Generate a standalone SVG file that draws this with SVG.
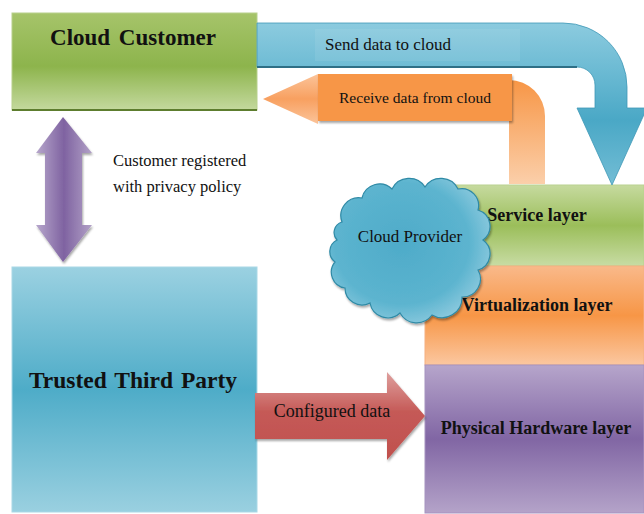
<svg xmlns="http://www.w3.org/2000/svg" width="644" height="514" viewBox="0 0 644 514">
  <defs>
    <linearGradient id="gGreen" x1="0" y1="0" x2="0" y2="1">
      <stop offset="0" stop-color="#a6c46a"/>
      <stop offset="0.55" stop-color="#8db44c"/>
      <stop offset="1" stop-color="#c4d99e"/>
    </linearGradient>
    <linearGradient id="gGreenLayer" x1="0" y1="0" x2="0" y2="1">
      <stop offset="0" stop-color="#c6da9f"/>
      <stop offset="0.5" stop-color="#9bbe5a"/>
      <stop offset="1" stop-color="#c8dca4"/>
    </linearGradient>
    <linearGradient id="gBlueBox" x1="0" y1="0" x2="0" y2="1">
      <stop offset="0" stop-color="#9bd1e1"/>
      <stop offset="0.5" stop-color="#4eacc8"/>
      <stop offset="1" stop-color="#9ad0e0"/>
    </linearGradient>
    <linearGradient id="gOrangeLayer" x1="0" y1="0" x2="0" y2="1">
      <stop offset="0" stop-color="#f9b98a"/>
      <stop offset="0.5" stop-color="#f79646"/>
      <stop offset="1" stop-color="#fbc7a0"/>
    </linearGradient>
    <linearGradient id="gPurpleLayer" x1="0" y1="0" x2="0" y2="1">
      <stop offset="0" stop-color="#b6a5cb"/>
      <stop offset="0.5" stop-color="#8166a4"/>
      <stop offset="1" stop-color="#b4a3c9"/>
    </linearGradient>
    <linearGradient id="gSend" gradientUnits="userSpaceOnUse" x1="0" y1="23" x2="0" y2="185">
      <stop offset="0" stop-color="#8ccbdf"/>
      <stop offset="0.3" stop-color="#6bbad3"/>
      <stop offset="0.6" stop-color="#4aa8c6"/>
      <stop offset="1" stop-color="#73bdd5"/>
    </linearGradient>
    <linearGradient id="gRecvBar" x1="0" y1="0" x2="0" y2="1">
      <stop offset="0" stop-color="#f79646"/>
      <stop offset="1" stop-color="#fbcfaa"/>
    </linearGradient>
    <linearGradient id="gRecvHead" x1="0" y1="0" x2="0" y2="1">
      <stop offset="0" stop-color="#fbc49a"/>
      <stop offset="0.5" stop-color="#f8a060"/>
      <stop offset="1" stop-color="#fbc49a"/>
    </linearGradient>
    <linearGradient id="gPurple" x1="0" y1="0" x2="1" y2="0">
      <stop offset="0" stop-color="#b7a7cc"/>
      <stop offset="0.5" stop-color="#7f63a1"/>
      <stop offset="1" stop-color="#b2a1c7"/>
    </linearGradient>
    <linearGradient id="gRed" x1="0" y1="0" x2="0" y2="1">
      <stop offset="0" stop-color="#dfa09e"/>
      <stop offset="0.45" stop-color="#c55a57"/>
      <stop offset="1" stop-color="#c0504d"/>
    </linearGradient>
    <radialGradient id="gCloud" cx="0.45" cy="0.45" r="0.6">
      <stop offset="0" stop-color="#4eabc9"/>
      <stop offset="0.7" stop-color="#5cb4cf"/>
      <stop offset="1" stop-color="#8fcbdf"/>
    </radialGradient>
    <filter id="shadow" x="-10%" y="-10%" width="120%" height="130%">
      <feDropShadow dx="1" dy="2" stdDeviation="1" flood-color="#000" flood-opacity="0.35"/>
    </filter>
  </defs>
  <style>
    .lbl { font-family: "Liberation Serif", "Times New Roman", serif; fill: #111; }
    .title { font-weight: bold; }
    .box { stroke-width: 1; }
  </style>

  <!-- layered cloud provider stack -->
  <g id="service-layer">
    <rect x="430" y="185" width="214" height="81" fill="url(#gGreenLayer)" stroke="#b9d18f" class="box"/>
    <text class="lbl title" x="537" y="221" font-size="18" text-anchor="middle">Service layer</text>
  </g>
  <g id="virtualization-layer">
    <rect x="425" y="266" width="219" height="99" fill="url(#gOrangeLayer)" stroke="#f5b080" class="box"/>
    <text class="lbl title" x="537" y="311" font-size="18" text-anchor="middle">Virtualization layer</text>
  </g>
  <g id="physical-layer">
    <rect x="425" y="365" width="219" height="148" fill="url(#gPurpleLayer)" stroke="#a693c0" class="box"/>
    <text class="lbl title" x="536" y="434" font-size="18" text-anchor="middle">Physical Hardware layer</text>
  </g>

  <g id="cloud-provider">
    <path filter="url(#shadow)" fill="url(#gCloud)" stroke="#2f8aa6" stroke-width="1.2"
      d="M342,222 A18,18 0 0 1 362,198 A18,18 0 0 1 392,189 A19,19 0 0 1 425,187 A19,19 0 0 1 458,189 A17,17 0 0 1 478,210 A17,17 0 0 1 483,240 A17,17 0 0 1 478,270 A18,18 0 0 1 462,297 A20,20 0 0 1 432,315 A19,19 0 0 1 400,313 A18,18 0 0 1 370,303 A17,17 0 0 1 345,288 A16,16 0 0 1 335,262 A13,13 0 0 1 337,240 A11,11 0 0 1 342,222 Z"/>
    <text class="lbl" x="410" y="242" font-size="17" text-anchor="middle">Cloud Provider</text>
  </g>

  <g id="cloud-customer">
    <rect x="12" y="13" width="245" height="97" fill="url(#gGreen)" stroke="#b7d08c" class="box"/>
    <line x1="12" y1="110" x2="257" y2="110" stroke="#5d7d2e" stroke-width="2"/>
    <text class="lbl title" x="133" y="45" font-size="23" text-anchor="middle" word-spacing="3">Cloud Customer</text>
  </g>

  <g id="trusted-third-party">
    <rect x="12" y="267" width="245" height="245" fill="url(#gBlueBox)" stroke="#a9d8e6" class="box"/>
    <text class="lbl title" x="133" y="388" font-size="23.5" text-anchor="middle" word-spacing="2">Trusted Third Party</text>
  </g>

  <!-- connectors -->
  <g id="connectors">
    <!-- send data: bent arrow from customer down to service layer -->
    <g id="send-data">
      <path fill="url(#gSend)" stroke="#3f98b6" stroke-width="0.8"
        d="M257,23 L563,23 A64,64 0 0 1 627,87 L627,108 L647,108 L612,185 L577,108 L595,108 L595,85 A18,18 0 0 0 577,67 L257,67 Z"/>
      <line x1="257" y1="67" x2="577" y2="67" stroke="#2e6f86" stroke-width="2"/>
      <rect x="315" y="29" width="205" height="32" fill="#ffffff" opacity="0.08"/>
      <text class="lbl" x="388" y="50" font-size="17" text-anchor="middle">Send data to cloud</text>
    </g>

    <!-- receive data: bent arrow from cloud back to customer -->
    <g id="receive-data">
      <path fill="url(#gRecvBar)"
        d="M480,80 L509,80 A36,36 0 0 1 545,116 L545,184 L509,184 L509,118 L480,118 Z"/>
      <path fill="url(#gRecvHead)" d="M263,99 L318,74 L318,124 Z"/>
      <rect x="318" y="74" width="194" height="47" fill="#f79646" filter="url(#shadow)"/>
      <text class="lbl" x="415" y="103" font-size="15.5" text-anchor="middle" fill="#2a1608">Receive data from cloud</text>
    </g>

    <!-- registration: double arrow between customer and third party -->
    <g id="registration">
      <polygon fill="url(#gPurple)" filter="url(#shadow)"
        points="63,117 92,153 82,153 82,225 92,225 63,262 36,225 45,225 45,153 36,153"/>
      <text class="lbl" x="113" y="166" font-size="16.5">Customer registered</text>
      <text class="lbl" x="113" y="192" font-size="16.5">with privacy policy</text>
    </g>

    <!-- configured data: block arrow from third party to hardware layer -->
    <g id="configured-data">
      <polygon fill="url(#gRed)" filter="url(#shadow)"
        points="255,393 387,393 387,372 425,416 387,460 387,439 255,439"/>
      <text class="lbl" x="332" y="417" font-size="18" text-anchor="middle" fill="#2a0e0c">Configured data</text>
    </g>
  </g>
</svg>
